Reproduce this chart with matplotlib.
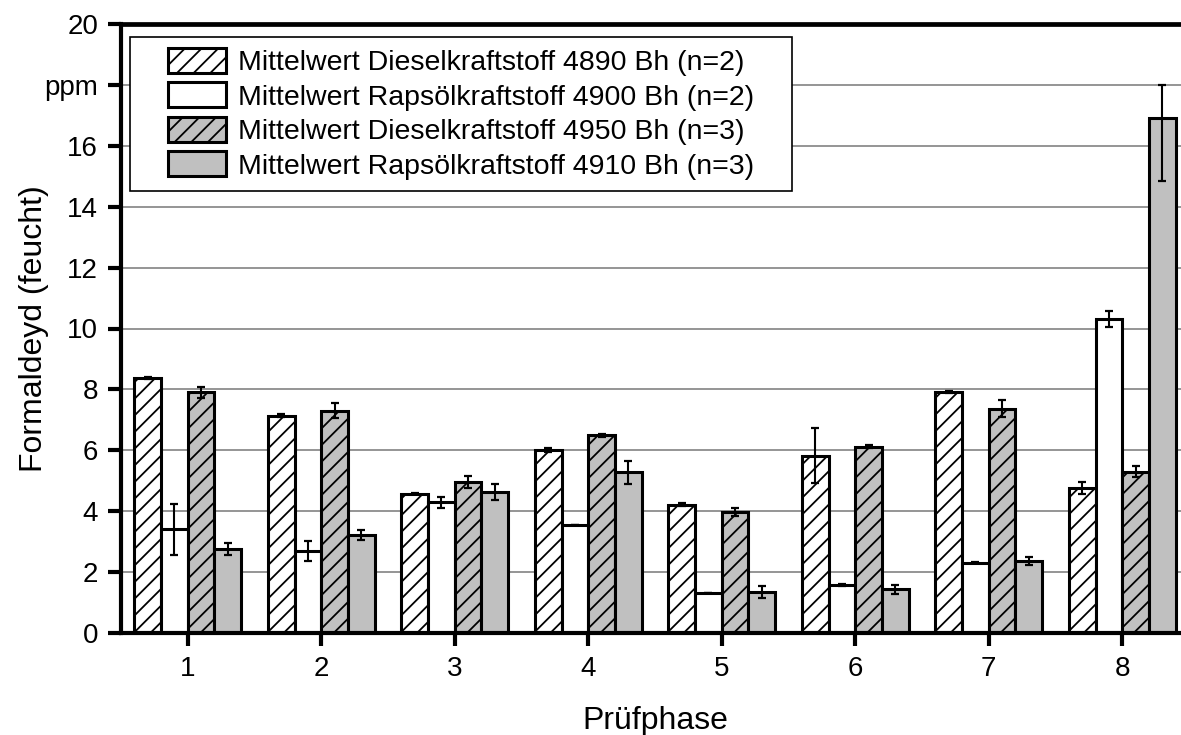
import numpy as np
import matplotlib
matplotlib.use("Agg")
import matplotlib.pyplot as plt
from matplotlib import patches

plt.rcParams['font.family'] = ['Liberation Sans', 'DejaVu Sans']
plt.rcParams['hatch.linewidth'] = 1.3

phases = [1, 2, 3, 4, 5, 6, 7, 8]
labels = ['Mittelwert Dieselkraftstoff 4890 Bh (n=2)',
          'Mittelwert Rapsölkraftstoff 4900 Bh (n=2)',
          'Mittelwert Dieselkraftstoff 4950 Bh (n=3)',
          'Mittelwert Rapsölkraftstoff 4910 Bh (n=3)']

# Mittelwerte
diesel_4890 = [8.38, 7.14, 4.58, 6.00, 4.22, 5.82, 7.92, 4.77]
raps_4900 = [3.41, 2.69, 4.29, 3.56, 1.30, 1.58, 2.31, 10.32]
diesel_4950 = [7.90, 7.30, 4.95, 6.50, 3.97, 6.12, 7.36, 5.30]
raps_4910 = [2.76, 3.23, 4.64, 5.28, 1.34, 1.43, 2.36, 16.90]

# Fehlerbalken (unten / oben)
diesel_4890_err = [0.04, 0.04, 0.03, 0.06, 0.05, 0.90, 0.04, 0.19]
raps_4900_err = [0.84, 0.33, 0.19, 0.0, 0.0, 0.03, 0.02, 0.26]
diesel_4950_err = [0.17, 0.24, 0.20, 0.05, 0.13, 0.05, 0.28, 0.18]
raps_4910_err_lo = [0.19, 0.16, 0.26, 0.38, 0.20, 0.15, 0.12, 2.05]
raps_4910_err_hi = [0.19, 0.16, 0.26, 0.38, 0.20, 0.15, 0.12, 1.10]

ytick_vals = [0, 2, 4, 6, 8, 10, 12, 14, 16, 18, 20]
ytick_labels = ['0', '2', '4', '6', '8', '10', '12', '14', '16', 'ppm', '20']

W, H = 1181, 735
fig = plt.figure(figsize=(W / 100, H / 100), dpi=100)
ax = fig.add_axes([121 / W, 1 - 633 / H, 1068 / W, 609 / H])

x = np.array(phases, dtype=float)
bw = 0.2
series = [
    (diesel_4890, diesel_4890_err, diesel_4890_err, 'white', '//'),
    (raps_4900, raps_4900_err, raps_4900_err, 'white', None),
    (diesel_4950, diesel_4950_err, diesel_4950_err, '#c0c0c0', '//'),
    (raps_4910, raps_4910_err_lo, raps_4910_err_hi, '#c0c0c0', None),
]
for i, (vals, lo, hi, face, hatch) in enumerate(series):
    off = (i - 1.5) * bw
    ax.bar(x + off, vals, width=bw, color=face, edgecolor='black', linewidth=2.2,
           hatch=hatch, label=labels[i], zorder=2,
           yerr=[lo, hi],
           error_kw=dict(ecolor='black', elinewidth=1.5, capsize=3, capthick=1.6, zorder=3))

ax.set_xlim(0.5, 8.5)
ax.set_ylim(0, 20)
ax.set_xticks(phases)
ax.set_xticklabels([str(p) for p in phases])
ax.set_yticks(ytick_vals)
ax.set_yticklabels(ytick_labels)
ax.yaxis.grid(True, color='#8c8c8c', linewidth=1.3)
ax.set_axisbelow(True)

for s in ['left', 'bottom', 'top']:
    ax.spines[s].set_linewidth(3)
ax.spines['top'].set_linewidth(3.4)
ax.spines['right'].set_visible(False)
ax.tick_params(axis='both', direction='out', length=9.5, width=3, labelsize=20)
ax.tick_params(axis='y', pad=7)
ax.tick_params(axis='x', pad=7)

ax.set_xlabel('Prüfphase', fontsize=23, labelpad=17)
ax.set_ylabel('Formaldeyd (feucht)', fontsize=23)
ax.yaxis.set_label_coords(-0.067, 0.5)

leg = ax.legend(loc='upper left', bbox_to_anchor=(0.036, 0.975), borderaxespad=0.3,
                frameon=False, fontsize=20.5, handlelength=2.05, handleheight=0.97,
                handletextpad=0.42, labelspacing=0.22, borderpad=0.0)
leg.set_zorder(6)
for h in leg.legend_handles:
    h.set_linewidth(2.2)

# Legendenrahmen mit breiterem seitlichen Rand
fig.canvas.draw()
bb = leg.get_window_extent()
px, py = 38, 11
inv = ax.transAxes.inverted()
(x0, y0), (x1, y1) = inv.transform([(bb.x0 - px, bb.y0 - py), (bb.x1 + px, bb.y1 + py)])
frame = patches.Rectangle((x0, y0), x1 - x0, y1 - y0, transform=ax.transAxes,
                          facecolor='white', edgecolor='black', linewidth=1.2, zorder=5)
ax.add_patch(frame)

fig.savefig('out.png', dpi=100)
